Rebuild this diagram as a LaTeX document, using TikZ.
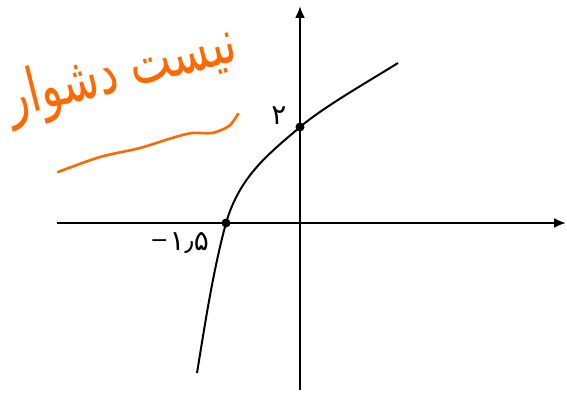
\documentclass[tikz,border=0pt]{standalone}
\usepackage{fontspec}
\usetikzlibrary{arrows.meta}
\newfontfamily\arabicfont[Script=Arabic]{DejaVu Sans}
\TeXXeTstate=1
\definecolor{pen}{RGB}{255,106,0}
\tikzset{
  axis/.style={line width=2.2pt, -{Latex[length=12pt,width=10pt]}},
  graphline/.style={line width=2pt},
  pt/.style={circle, fill=black, inner sep=0pt, minimum size=9pt},
  lbl/.style={font=\arabicfont\fontsize{28}{28}\selectfont, inner sep=0pt},
  hand/.style={text=pen, font=\arabicfont\fontsize{42}{42}\selectfont, inner sep=0pt},
  squiggle/.style={draw=pen, line width=2.6pt, line cap=round, line join=round}
}
\begin{document}
\begin{tikzpicture}[x=1pt,y=-1pt]
\useasboundingbox (0,0) rectangle (567,395);
% axes
\coordinate (xs) at (57,223);
\coordinate (xe) at (566,223);
\coordinate (ys) at (300,390);
\coordinate (ye) at (300,6);
\draw[axis] (xs) -- (xe);
\draw[axis] (ys) -- (ye);
% curve
\coordinate (c0) at (197,373);
\coordinate (c3) at (398,63);
\node[pt] (a) at (226,223) {};
\node[pt] (b) at (300,127) {};
\draw[graphline] (c0) .. controls (205,324) and (213,271) .. (a.center)
  .. controls (240,175) and (270,153) .. (b.center)
  .. controls (325,106) and (370,80.5) .. (c3);
% labels
\node[inner sep=0pt, anchor=east] (la) at (209,243) {\raisebox{3pt}{\arabicfont\fontsize{22}{22}\selectfont −}\kern1pt\arabicfont\fontsize{28}{28}\selectfont ۱٫۵};
\node[lbl] (lb) at (279,116) {۲};
% handwritten note
\node[hand, rotate=14, xscale=1.05, yscale=1.45] (note) at (122,74) {\beginR نیست دشوار\endR};
\coordinate (s0) at (58,172);
\coordinate (s1) at (100,157);
\coordinate (s2) at (140,148);
\coordinate (s3) at (172,138);
\coordinate (s4) at (192,133);
\coordinate (s5) at (212,133);
\coordinate (s6) at (229,126);
\coordinate (s7) at (238,114);
\draw[squiggle] plot[smooth, tension=0.5] coordinates {(s0) (s1) (s2) (s3) (s4) (s5) (s6) (s7)};
\end{tikzpicture}
\end{document}
